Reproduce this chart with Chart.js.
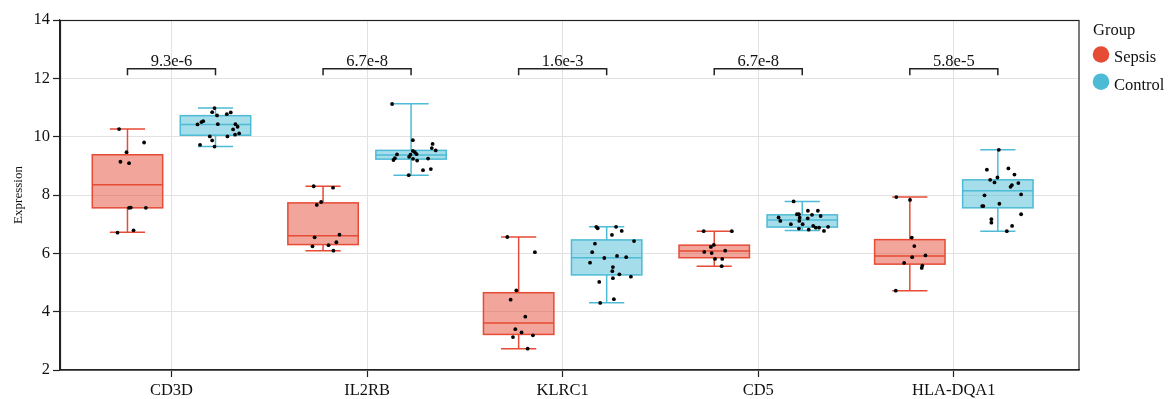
<!DOCTYPE html>
<html><head><meta charset="utf-8">
<script src="https://cdn.jsdelivr.net/npm/chart.js@4.4.1/dist/chart.umd.min.js"></script>
<style>html,body{margin:0;padding:0;background:#fff;}#wrap{width:1171px;height:399px;position:relative;}</style>
</head><body><div id="wrap"><canvas id="c"></canvas></div>
<script>
// ---------- data ----------
const genes = ['CD3D', 'IL2RB', 'KLRC1', 'CD5', 'HLA-DQA1'];
const groupNames = ['Sepsis', 'Control'];
const pValues = ['9.3e-6', '6.7e-8', '1.6e-3', '6.7e-8', '5.8e-5'];
const yTicks = [2, 4, 6, 8, 10, 12, 14];

const sepsisLow    = [6.72, 6.09, 2.73, 5.56, 4.72];
const sepsisQ1     = [7.56, 6.30, 3.22, 5.85, 5.63];
const sepsisMedian = [8.35, 6.60, 3.61, 6.08, 5.91];
const sepsisQ3     = [9.38, 7.73, 4.65, 6.28, 6.47];
const sepsisHigh   = [10.26, 8.30, 6.56, 6.76, 7.93];

const controlLow    = [9.66, 8.68, 4.31, 6.78, 6.76];
const controlQ1     = [10.05, 9.23, 5.26, 6.90, 7.56];
const controlMedian = [10.42, 9.37, 5.85, 7.14, 8.15];
const controlQ3     = [10.72, 9.53, 6.46, 7.32, 8.52];
const controlHigh   = [10.98, 11.13, 6.91, 7.78, 9.55];

const sepsisValues = [
  [10.26, 9.80, 9.47, 9.14, 9.09, 7.56, 7.57, 7.56, 6.71, 6.79],
  [8.30, 8.25, 7.76, 7.66, 6.64, 6.55, 6.38, 6.24, 6.28, 6.09],
  [6.56, 6.04, 4.73, 4.41, 3.83, 3.40, 3.29, 3.19, 3.13, 2.73],
  [6.76, 6.76, 6.29, 6.22, 6.09, 6.05, 6.01, 5.81, 5.81, 5.56],
  [7.93, 7.83, 6.54, 6.25, 5.93, 5.87, 5.67, 5.58, 5.50, 4.72]
];
const sepsisJitter = [
  [-0.043, 0.085, -0.005, -0.036, 0.008, 0.008, 0.017, 0.094, -0.051, 0.031],
  [-0.048, 0.051, -0.010, -0.032, 0.084, -0.043, 0.068, -0.054, 0.028, 0.053],
  [-0.058, 0.083, -0.012, -0.041, 0.034, -0.017, 0.015, 0.073, -0.029, 0.046],
  [-0.054, 0.090, -0.002, -0.017, 0.056, -0.051, -0.013, 0.004, 0.041, 0.038],
  [-0.069, 0.001, 0.010, 0.023, 0.080, 0.012, -0.029, 0.064, 0.061, -0.072]
];
const controlValues = [
  [10.98, 10.84, 10.73, 10.77, 10.83, 10.42, 10.50, 10.53, 10.43, 10.43, 10.34, 10.25, 10.11, 10.07, 10.01, 10.01, 9.87, 9.72, 9.66],
  [11.12, 9.88, 9.75, 9.61, 9.53, 9.51, 9.47, 9.40, 9.38, 9.39, 9.31, 9.26, 9.20, 9.24, 9.18, 9.25, 8.85, 8.89, 8.68],
  [6.91, 6.86, 6.91, 6.77, 6.63, 6.42, 6.33, 6.04, 5.91, 5.87, 5.84, 5.68, 5.53, 5.39, 5.28, 5.20, 5.15, 5.02, 4.43, 4.30],
  [7.78, 7.46, 7.46, 7.34, 7.34, 7.32, 7.28, 7.23, 7.22, 7.20, 7.11, 7.11, 7.00, 7.00, 6.94, 6.88, 6.88, 6.91, 6.85, 6.81, 6.77],
  [9.55, 8.87, 8.91, 8.70, 8.60, 8.52, 8.43, 8.41, 8.34, 8.28, 7.99, 8.02, 7.70, 7.62, 7.62, 7.34, 7.17, 7.05, 6.94, 6.76]
];
const controlJitter = [
  [-0.005, -0.017, 0.008, 0.058, 0.078, -0.092, -0.072, -0.063, 0.012, 0.102, 0.113, 0.090, 0.121, 0.100, 0.061, -0.029, -0.017, -0.079, -0.005],
  [-0.097, 0.009, 0.110, 0.106, 0.126, 0.009, 0.019, 0.028, -0.003, -0.072, -0.010, -0.083, -0.090, 0.010, 0.031, 0.087, 0.061, 0.101, -0.012],
  [-0.053, -0.046, 0.048, 0.077, 0.027, 0.140, -0.060, -0.074, 0.053, 0.100, -0.012, -0.085, 0.032, 0.029, 0.065, 0.124, 0.032, -0.038, 0.037, -0.033],
  [-0.044, 0.029, 0.080, -0.027, -0.017, 0.050, 0.094, -0.121, -0.013, 0.028, -0.112, -0.015, -0.058, 0.002, 0.056, 0.069, 0.086, 0.132, -0.017, 0.033, 0.111],
  [0.005, -0.056, 0.054, 0.085, -0.002, -0.039, -0.017, 0.105, 0.072, 0.065, -0.068, 0.119, 0.008, -0.080, -0.074, 0.119, -0.033, -0.033, 0.073, 0.046]
];

// ---------- layout / style constants ----------
const DODGE = 0.225, BOX_HALF = 0.18, CAP_HALF = 0.09;
const BR_Y = 12.33, BR_TIP = 12.11, P_LABEL_Y = 12.41;
const SEPSIS_COLOR = '#E64B35', SEPSIS_FILL = 'rgba(230,75,53,0.5)';
const CONTROL_COLOR = '#4DBBD5', CONTROL_FILL = 'rgba(77,187,213,0.5)';
const FONT = "'Liberation Serif', 'Times New Roman', serif";
const TXT = '#111';

function pointsFor(values, jitter, off) {
  const out = [];
  values.forEach((arr, i) => arr.forEach((v, k) => out.push({ x: i + 1 + off + jitter[i][k], y: v })));
  return out;
}
function bracketFor(i) {
  const a = i + 1 - DODGE, b = i + 1 + DODGE;
  return [{ x: a, y: BR_TIP }, { x: a, y: BR_Y }, { x: b, y: BR_Y }, { x: b, y: BR_TIP }];
}

const boxGroups = [
  { off: -DODGE, low: sepsisLow, q1: sepsisQ1, med: sepsisMedian, q3: sepsisQ3, high: sepsisHigh, stroke: SEPSIS_COLOR, fill: SEPSIS_FILL },
  { off: DODGE, low: controlLow, q1: controlQ1, med: controlMedian, q3: controlQ3, high: controlHigh, stroke: CONTROL_COLOR, fill: CONTROL_FILL }
];

const boxPlugin = {
  id: 'boxes',
  beforeDatasetsDraw(chart) {
    const { ctx, scales: { x, y } } = chart;
    ctx.save();
    ctx.lineWidth = 1.5;
    boxGroups.forEach(g => genes.forEach((name, i) => {
      const c = i + 1 + g.off;
      const xl = x.getPixelForValue(c - BOX_HALF), xr = x.getPixelForValue(c + BOX_HALF);
      const xc = x.getPixelForValue(c);
      const cl = x.getPixelForValue(c - CAP_HALF), cr = x.getPixelForValue(c + CAP_HALF);
      const yl = y.getPixelForValue(g.low[i]), y1 = y.getPixelForValue(g.q1[i]);
      const ym = y.getPixelForValue(g.med[i]), y3 = y.getPixelForValue(g.q3[i]);
      const yh = y.getPixelForValue(g.high[i]);
      ctx.strokeStyle = g.stroke;
      ctx.beginPath();
      ctx.moveTo(xc, yh); ctx.lineTo(xc, y3);
      ctx.moveTo(xc, y1); ctx.lineTo(xc, yl);
      ctx.moveTo(cl, yh); ctx.lineTo(cr, yh);
      ctx.moveTo(cl, yl); ctx.lineTo(cr, yl);
      ctx.stroke();
      ctx.fillStyle = g.fill;
      ctx.fillRect(xl, y3, xr - xl, y1 - y3);
      ctx.strokeRect(xl, y3, xr - xl, y1 - y3);
      ctx.beginPath(); ctx.moveTo(xl, ym); ctx.lineTo(xr, ym); ctx.stroke();
    }));
    ctx.restore();
  },
  afterDatasetsDraw(chart) {
    const { ctx, chartArea: a, scales: { x, y } } = chart;
    ctx.save();
    ctx.fillStyle = TXT;
    ctx.font = '16.5px ' + FONT;
    ctx.textAlign = 'center';
    ctx.textBaseline = 'alphabetic';
    pValues.forEach((p, i) => ctx.fillText(p, x.getPixelForValue(i + 1), y.getPixelForValue(P_LABEL_Y)));
    ctx.strokeStyle = '#222';
    ctx.lineWidth = 1.2;
    ctx.strokeRect(Math.round(a.left) + 0.5, Math.round(a.top) + 0.5, Math.round(a.right - a.left) - 0.5, Math.round(a.bottom - a.top) - 0.5);
    ctx.restore();
  },
  afterDraw(chart) {
    const { ctx } = chart;
    ctx.save();
    ctx.fillStyle = TXT;
    ctx.font = '16.5px ' + FONT;
    ctx.textAlign = 'left';
    ctx.textBaseline = 'alphabetic';
    ctx.fillText('Group', 1093, 35);
    [[SEPSIS_COLOR, groupNames[0], 54.5, 62], [CONTROL_COLOR, groupNames[1], 81.7, 90]].forEach(([col, t, cy, by]) => {
      ctx.fillStyle = col;
      ctx.beginPath(); ctx.arc(1101, cy, 8.3, 0, Math.PI * 2); ctx.fill();
      ctx.fillStyle = TXT;
      ctx.fillText(t, 1114, by);
    });
    ctx.restore();
  }
};

const datasets = [
  { label: groupNames[0], data: pointsFor(sepsisValues, sepsisJitter, -DODGE), backgroundColor: '#000', borderColor: '#000', pointRadius: 1.9, pointBorderWidth: 0 },
  { label: groupNames[1], data: pointsFor(controlValues, controlJitter, DODGE), backgroundColor: '#000', borderColor: '#000', pointRadius: 1.9, pointBorderWidth: 0 }
];
genes.forEach((g, i) => datasets.push({
  label: 'p ' + g, data: bracketFor(i), showLine: true, borderColor: '#222', borderWidth: 1.5, pointRadius: 0, fill: false, tension: 0
}));

Chart.defaults.font.family = FONT;
Chart.defaults.color = TXT;

new Chart(document.getElementById('c'), {
  type: 'scatter',
  data: { datasets },
  options: {
    responsive: true, maintainAspectRatio: false, animation: false,
    layout: { padding: { top: 20, right: 92, left: 0, bottom: 0 } },
    plugins: { legend: { display: false }, tooltip: { enabled: false } },
    scales: {
      x: {
        type: 'linear', min: 0.43, max: 5.64,
        afterBuildTicks(s) { s.ticks = genes.map((g, i) => ({ value: i + 1 })); },
        afterFit(s) { s.height = 29; },
        ticks: { callback: (v, idx) => genes[idx], font: { size: 16.5 }, color: TXT, padding: 4, maxRotation: 0, autoSkip: false },
        grid: { color: '#e2e2e2', lineWidth: 1, tickColor: '#222', tickLength: 7, tickWidth: 1.2 },
        border: { color: '#222', width: 1.2 }
      },
      y: {
        min: 2, max: 14,
        afterBuildTicks(s) { s.ticks = yTicks.map(v => ({ value: v })); },
        afterFit(s) { s.width = 60; },
        ticks: { font: { size: 16.5 }, color: TXT, padding: 3 },
        grid: { color: '#e2e2e2', lineWidth: 1, tickColor: '#222', tickLength: 7, tickWidth: 1.2 },
        border: { color: '#222', width: 1.2 },
        title: { display: true, text: 'Expression', font: { size: 13 }, color: TXT, padding: { top: 11, bottom: 0 } }
      }
    }
  },
  plugins: [boxPlugin]
});
</script>
</body></html>
